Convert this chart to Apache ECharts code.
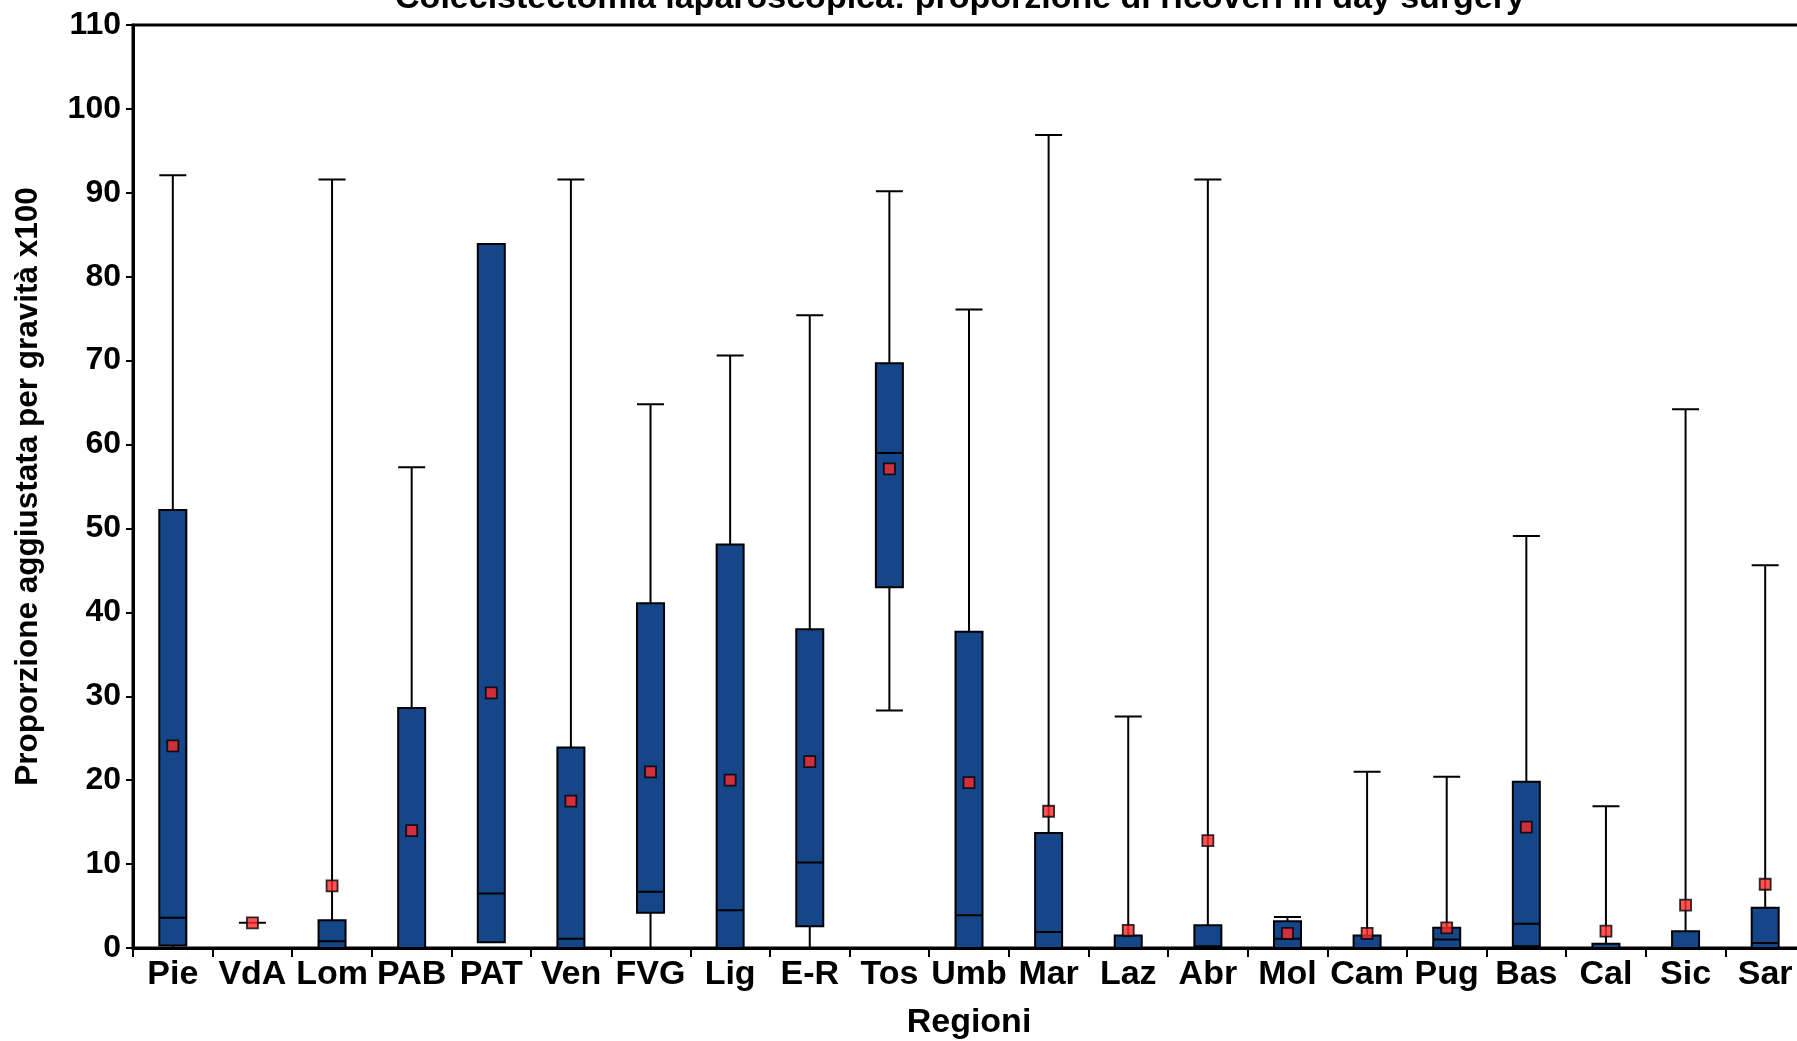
<!DOCTYPE html>
<html>
<head>
<meta charset="utf-8">
<script src="https://cdn.jsdelivr.net/npm/echarts@6/dist/echarts.min.js"></script>
<style>
html,body{margin:0;padding:0;background:#fff;}
#chart{width:1797px;height:1041px;}
</style>
</head>
<body>
<div id="chart"></div>
<script>
const titleText = 'Colecistectomia laparoscopica: proporzione di ricoveri in day surgery';
const categories = ['Pie','VdA','Lom','PAB','PAT','Ven','FVG','Lig','E-R','Tos','Umb','Mar','Laz','Abr','Mol','Cam','Pug','Bas','Cal','Sic','Sar'];
const minVals    = [0,   3.0, 0,   0,   0.7, 0,   0,   0,   0,   28.3, 0,   0,   0,   0,   0,   0,   0,   0,   0,   0,   0];
const q1Vals     = [0.3, 3.0, 0,   0,   0.7, 0,   4.2, 0,   2.6, 43.0, 0,   0,   0,   0.2, 0,   0,   0,   0.2, 0,   0,   0];
const medianVals = [3.6, 3.0, 0.8, 0,   6.5, 1.1, 6.7, 4.5, 10.2,59.0, 3.9, 1.9, 0,   0.2, 1.1, 0,   1.0, 2.9, 0,   0,   0.6];
const q3Vals     = [52.2,3.0, 3.3, 28.6,83.9,23.9,41.1,48.1,38.0,69.7, 37.7,13.7,1.5, 2.7, 3.2, 1.5, 2.4, 19.8,0.5, 2.0, 4.8];
const maxVals    = [92.1,3.0, 91.6,57.3,83.9,91.6,64.8,70.6,75.4,90.2, 76.1,96.9,27.6,91.6,3.7, 21.0,20.4,49.1,16.9,64.2,45.6];
const meanVals   = [24.1,3.0, 7.4, 14.0,30.4,17.5,21.0,20.0,22.2,57.1, 19.7,16.3,2.1, 12.8,1.75,1.75,2.4, 14.4,2.0, 5.1, 7.6];
const yTicks = {min: 0, max: 110, interval: 10};
const xAxisName = 'Regioni';
const yAxisName = 'Proporzione aggiustata per gravità x100';

const boxData = categories.map((c, i) => [minVals[i], q1Vals[i], medianVals[i], q3Vals[i], maxVals[i]]);
const meanData = categories.map((c, i) => [c, meanVals[i]]);

const FONT = '"Liberation Sans", Arial, Helvetica, sans-serif';
const chart = echarts.init(document.getElementById('chart'), null, {renderer: 'canvas'});
chart.setOption({
  animation: false,
  backgroundColor: '#ffffff',
  title: {
    text: titleText,
    left: 955,
    textAlign: 'center',
    top: -23,
    textStyle: {fontFamily: FONT, fontWeight: 'bold', fontSize: 34, color: '#000'}
  },
  grid: {
    left: 133, right: -8, top: 25, bottom: 93,
    outerBoundsMode: 'none',
    containLabel: false,
    show: true, borderColor: '#000', borderWidth: 3, backgroundColor: 'transparent'
  },
  xAxis: {
    type: 'category',
    data: categories,
    name: xAxisName,
    nameLocation: 'middle',
    nameGap: 58,
    nameTextStyle: {fontFamily: FONT, fontWeight: 'bold', fontSize: 34, color: '#000'},
    axisLine: {show: true, lineStyle: {color: '#000', width: 3}},
    axisTick: {show: true, length: 9, lineStyle: {color: '#000', width: 2}},
    axisLabel: {fontFamily: FONT, fontWeight: 'bold', fontSize: 34, color: '#000', margin: 10, interval: 0},
    splitLine: {show: false}
  },
  yAxis: {
    type: 'value',
    min: yTicks.min, max: yTicks.max, interval: yTicks.interval,
    name: yAxisName,
    nameLocation: 'middle',
    nameGap: 89,
    nameTextStyle: {fontFamily: FONT, fontWeight: 'bold', fontSize: 31.5, color: '#000'},
    axisLine: {show: true, lineStyle: {color: '#000', width: 3}},
    axisTick: {show: true, length: 7, lineStyle: {color: '#000', width: 2}},
    axisLabel: {fontFamily: FONT, fontWeight: 'bold', fontSize: 32, color: '#000', margin: 12},
    splitLine: {show: false}
  },
  series: [
    {
      type: 'boxplot',
      data: boxData,
      boxWidth: [27, 27],
      itemStyle: {color: '#154689', borderColor: '#000', borderWidth: 2},
      emphasis: {disabled: true},
      z: 2
    },
    {
      type: 'scatter',
      data: meanData,
      symbol: 'rect',
      symbolSize: 11,
      itemStyle: {color: '#ff2a2a', borderColor: '#000', borderWidth: 1.8},
      emphasis: {disabled: true},
      z: 5
    }
  ]
});
</script>
</body>
</html>
